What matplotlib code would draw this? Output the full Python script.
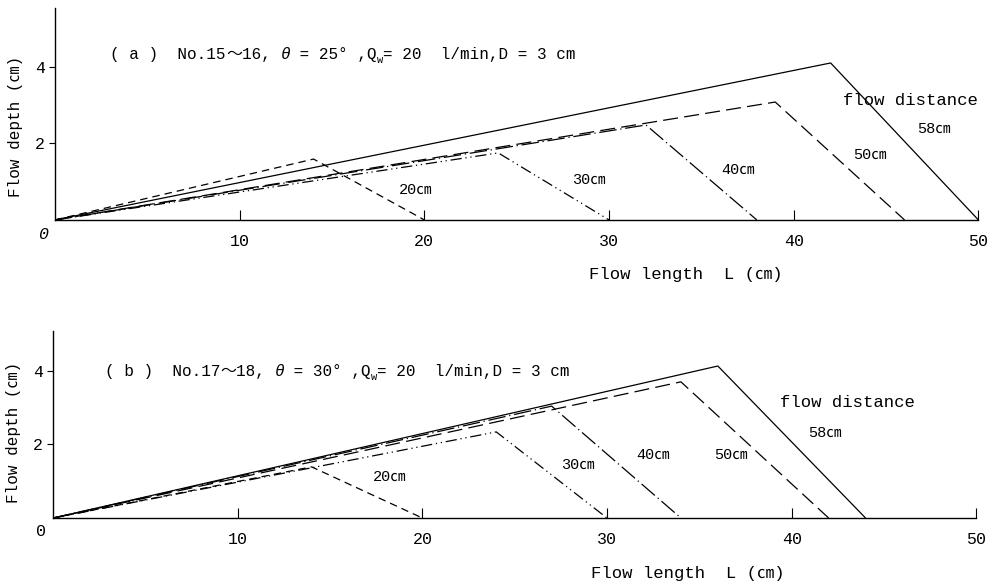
import matplotlib
matplotlib.use("Agg")
import matplotlib.pyplot as plt

plt.rcParams['font.family'] = ['Liberation Mono', 'Noto Sans CJK JP', 'DejaVu Sans']

# flow distances
distances = ["20㎝", "30㎝", "40㎝", "50㎝", "58㎝"]

# (a) theta = 25 deg : peak position, peak depth, end of flow
a_peak_x = [14, 24, 32, 39, 42]
a_peak_y = [1.59, 1.75, 2.48, 3.08, 4.10]
a_end_x = [20, 30, 38, 46, 50]

# (b) theta = 30 deg
b_peak_x = [14, 24, 27, 34, 36]
b_peak_y = [1.39, 2.34, 3.04, 3.70, 4.13]
b_end_x = [20, 30, 34, 42, 44]

styles = [(0, (6, 4)), (0, (9, 3, 1, 3, 1, 3)), (0, (14, 3, 1, 3)),
          (0, (12, 5)), '-']

fig = plt.figure(figsize=(9.95, 5.88), dpi=100)
ax_a = fig.add_axes([0.0553, 0.626, 0.928, 0.360])
ax_b = fig.add_axes([0.0533, 0.119, 0.928, 0.318])


def title_text(ax, x, y, tag, nos, theta):
    # pieces: (text, fontsize, style, y offset in points)
    parts = [("( %s )  No.%s" % (tag, nos[0]), 11.5, 'normal', 0),
             ("～", 11.5, 'normal', 0),
             ("%s, " % nos[1], 11.5, 'normal', 0),
             ("θ", 11.5, 'italic', 0),
             (" = %d° ,Q" % theta, 11.5, 'normal', 0),
             ("w", 7.5, 'normal', -2),
             ("= 20  l/min,D = 3 cm", 11.5, 'normal', 2)]
    t = ax.text(x, y, parts[0][0], fontsize=parts[0][1], ha='left', va='bottom')
    for txt, fs, st, dy in parts[1:]:
        t = ax.annotate(txt, xy=(1, 0), xycoords=t, xytext=(0, dy),
                        textcoords='offset points', fontsize=fs, style=st,
                        ha='left', va='bottom')


def draw(ax, px, py, ex, ymax, tag, nos, theta, tpos, lpos, fdpos, xlab_pos, ylab_y, zero_italic):
    for i in range(len(distances)):
        ax.plot([0, px[i], ex[i]], [0, py[i], 0], color='black', lw=0.9,
                linestyle=styles[i], solid_capstyle='butt')
        ax.text(lpos[i][0], lpos[i][1], distances[i], fontsize=11,
                ha='center', va='center')
    ax.text(fdpos[0], fdpos[1], "flow distance", fontsize=12.4,
            ha='center', va='center')
    title_text(ax, tpos[0], tpos[1], tag, nos, theta)
    ax.set_xlim(0, 50)
    ax.set_ylim(0, ymax)
    for s in ['top', 'right']:
        ax.spines[s].set_visible(False)
    for s in ['left', 'bottom']:
        ax.spines[s].set_linewidth(1.0)
    ax.set_xticks([10, 20, 30, 40, 50])
    ax.set_yticks([2, 4])
    ax.tick_params(axis='x', direction='in', length=7, pad=10, labelsize=12)
    ax.tick_params(axis='y', direction='out', length=4, pad=3, labelsize=12)
    ax.text(-0.013, -0.07, "0", transform=ax.transAxes, fontsize=12,
            ha='center', va='center', style='italic' if zero_italic else 'normal')
    ax.text(xlab_pos[0], xlab_pos[1], "Flow length  L (㎝)", transform=ax.transAxes,
            fontsize=12.4, ha='center', va='center')
    ax.text(-0.043, ylab_y, "Flow depth (㎝)", transform=ax.transAxes,
            fontsize=11.5, ha='center', va='center', rotation=90)


draw(ax_a, a_peak_x, a_peak_y, a_end_x, 5.53, "a", ("15", "16"), 25,
     (3.0, 4.12),
     [(19.5, 0.78), (28.9, 1.04), (37.0, 1.31), (44.1, 1.70), (47.6, 2.38)],
     (46.3, 3.13), (0.683, -0.26), 0.44, True)

draw(ax_b, b_peak_x, b_peak_y, b_end_x, 5.08, "b", ("17", "18"), 30,
     (2.8, 3.77),
     [(18.2, 1.11), (28.4, 1.44), (32.5, 1.71), (36.7, 1.71), (41.8, 2.31)],
     (43.0, 3.15), (0.688, -0.294), 0.46, False)

fig.savefig("out.png", dpi=100)
